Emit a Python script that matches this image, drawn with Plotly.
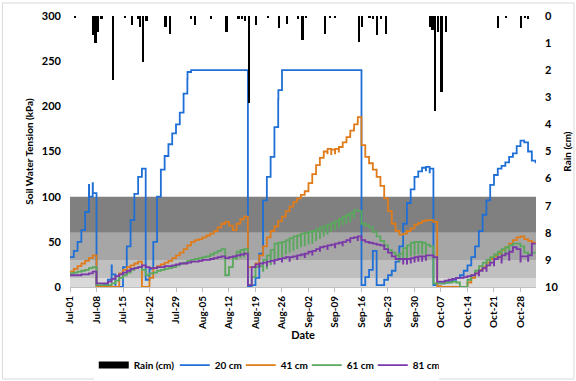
import pandas as pd
import plotly.graph_objects as go

# ---- data -------------------------------------------------------------
start = pd.Timestamp("2019-07-01")

tick_labels = ["Jul-01", "Jul-08", "Jul-15", "Jul-22", "Jul-29", "Aug-05",
               "Aug-12", "Aug-19", "Aug-26", "Sep-02", "Sep-09", "Sep-16",
               "Sep-23", "Sep-30", "Oct-07", "Oct-14", "Oct-21", "Oct-28"]

# daily soil water tension (kPa), one value per day from Jul-01
tension_20cm = [
    33, 40, 50, 63, 83, 100, 104, 0, 0, 3,
    8, 14, 0, 0, 22, 45, 74, 103, 122, 131,
    8, 20, 50, 100, 130, 145, 158, 170, 180, 193,
    214, 238, 240, 240, 240, 240, 240, 240, 240, 240,
    240, 240, 240, 240, 240, 240, 240, 0, 2, 10,
    37, 96, 122, 144, 177, 218, 240, 240, 240, 240,
    240, 240, 240, 240, 240, 240, 240, 240, 240, 240,
    240, 240, 240, 240, 240, 240, 240, 2, 11, 19,
    40, 2, 2, 8, 13, 18, 28, 45, 70, 93,
    108, 122, 128, 132, 133, 131, 2, 4, 4, 5,
    6, 8, 10, 13, 18, 24, 33, 45, 62, 80,
    96, 113, 124, 131, 134, 138, 144, 148, 156, 162,
    160, 150, 140, 137,
]
tension_41cm = [
    17, 20, 23, 26, 29, 32, 35, 0, 0, 0,
    0, 0, 0, 15, 19, 22, 24, 26, 28, 0,
    0, 10, 21, 23, 25, 27, 29, 32, 35, 38,
    42, 46, 50, 52, 53, 55, 57, 59, 62, 66,
    70, 72, 68, 63, 70, 75, 78, 22, 22, 26,
    35, 45, 55, 62, 67, 73, 78, 84, 89, 94,
    98, 102, 106, 115, 125, 135, 143, 150, 153, 152,
    153, 155, 160, 166, 173, 180, 188, 157, 144, 137,
    130, 122, 112, 98, 84, 70, 62, 58, 59, 62,
    65, 69, 71, 73, 74, 74, 72, 1, 0, 0,
    0, 0, 0, 0, 0, 5, 10, 15, 19, 22,
    27, 31, 34, 37, 41, 44, 48, 52, 55, 56,
    53, 51, 49, 49,
]
tension_61cm = [
    15, 16, 17, 18, 19, 21, 22, 2, 2, 2,
    2, 4, 7, 10, 13, 16, 19, 21, 22, 19,
    13, 15, 16, 18, 19, 20, 21, 22, 24, 26,
    27, 29, 30, 31, 32, 33, 34, 36, 38, 40,
    42, 13, 22, 32, 39, 41, 42, 2, 11, 22,
    23, 30, 35, 41, 48, 49, 50, 52, 54, 56,
    57, 59, 60, 61, 62, 64, 66, 67, 69, 71,
    73, 75, 78, 80, 82, 85, 84, 70, 68, 66,
    61, 56, 51, 46, 41, 38, 35, 37, 43, 46,
    49, 50, 50, 49, 47, 45, 4, 4, 4, 5,
    5, 6, 5, 0, 0, 8, 13, 18, 23, 27,
    30, 33, 36, 39, 42, 44, 46, 48, 48, 45,
    38, 36, 38, 38,
]
tension_81cm = [
    13, 13, 13, 14, 14, 15, 17, 4, 4, 4,
    6, 9, 12, 14, 16, 18, 20, 21, 22, 24,
    22, 21, 21, 22, 22, 23, 23, 24, 25, 26,
    26, 27, 28, 28, 29, 30, 30, 31, 32, 33,
    34, 32, 33, 34, 35, 36, 37, 2, 22, 25,
    26, 27, 28, 29, 30, 31, 32, 33, 33, 34,
    35, 36, 37, 39, 40, 42, 44, 45, 46, 47,
    48, 49, 50, 52, 54, 55, 56, 52, 50, 49,
    48, 47, 46, 42, 38, 34, 31, 31, 31, 31,
    32, 33, 34, 34, 35, 35, 33, 6, 6, 7,
    8, 9, 10, 10, 11, 12, 13, 15, 18, 21,
    24, 27, 31, 33, 35, 37, 39, 44, 42, 34,
    34, 35, 48, 48,
]

# short daily dips in the sensor trace (day index: depth in kPa);
# negative depth means a short upward spike
spikes_20cm = {5: -13, 6: -11, 11: -10, 31: 8, 55: 10, 94: 4, 95: 4}
spikes_41cm = {67: 5, 68: 5, 69: 5, 70: 5, 71: 5, 72: 5, 73: 5, 74: 5, 75: 5, 76: 5}
spikes_61cm = {
    43: 8, 44: 8, 45: 8, 46: 8,
    51: 12, 52: 14, 53: 16, 54: 18, 55: 18, 56: 16, 57: 15, 58: 15, 59: 15,
    60: 14, 61: 14, 62: 14, 63: 13, 64: 13, 65: 12, 66: 12, 67: 10, 68: 10,
    69: 9, 70: 9, 71: 9, 72: 9, 73: 9, 74: 9, 75: 8,
    87: 8, 88: 12, 89: 14, 90: 14, 91: 14, 92: 13, 93: 12, 94: 10,
    108: 6, 109: 6, 110: 7, 111: 7, 112: 8, 113: 8, 114: 8, 115: 8, 116: 8,
}
spikes_81cm = {
    50: 4, 52: 4, 54: 4, 56: 4, 58: 4, 60: 4, 62: 4, 64: 4, 66: 4, 68: 4,
    70: 4, 72: 4, 74: 4, 76: 4, 88: 5, 89: 5, 90: 5, 91: 5, 92: 5, 93: 5,
    94: 5, 108: 5, 110: 6, 112: 7, 114: 8, 116: 9, 119: 6, 121: 6,
}

# rainfall (cm): time in days after Jul-01, depth
rain_day = [1.3, 6.1, 6.8, 7.5, 8.4, 11.4, 14.5, 16.4, 18.0, 18.5,
            19.4, 20.3, 25.3, 26.4, 32.1, 33.0, 37.4, 41.4, 44.6, 45.4,
            46.2, 47.4, 49.3, 52.4, 55.3, 57.4, 60.3, 61.5, 62.5, 67.4,
            68.7, 70.0, 76.4, 77.3, 79.2, 80.1, 81.2, 82.3, 83.5, 95.3,
            95.8, 96.4, 97.3, 98.2, 99.3, 113.1, 115.3, 119.3, 120.2, 121.0]
rain_cm = [0.05, 0.7, 1.0, 0.6, 0.1, 2.35, 0.05, 0.35, 0.1, 0.4,
           1.7, 0.2, 0.4, 0.65, 0.1, 0.35, 0.1, 0.6, 0.1, 0.1,
           0.2, 3.2, 0.35, 0.05, 0.45, 0.3, 0.1, 0.9, 0.05, 0.65,
           0.05, 0.05, 0.95, 0.4, 0.05, 0.1, 0.7, 0.1, 0.65, 0.4,
           0.5, 3.5, 0.6, 2.8, 0.6, 0.45, 0.05, 0.45, 0.05, 0.1]

# tension classes shaded behind the data (kPa)
band_edges = [0, 10, 30, 60, 100]
band_colors = ["#d9d9d9", "#bfbfbf", "#a6a6a6", "#808080"]

series_names = ["20 cm", "41 cm", "61 cm", "81 cm"]
series_colors = ["#1f6fd6", "#e07b1a", "#5aa85e", "#7a38a8"]

# ---- helpers ----------------------------------------------------------
DAY = pd.Timedelta(days=1)


def stepped(values, spikes):
    xs, ys = [], []
    for i, v in enumerate(values):
        t = start + i * DAY
        s = spikes.get(i, 0)
        if s:
            xs += [t, t + pd.Timedelta(hours=1)]
            ys += [v - s, v]
        else:
            xs.append(t)
            ys.append(v)
    return xs, ys


FONT = "Lato"

fig = go.Figure()

# rainfall bars hang from the top on the reversed right axis
fig.add_trace(go.Bar(
    x=[start + d * DAY for d in rain_day], y=rain_cm, yaxis="y2",
    width=0.45 * 86400000, marker=dict(color="black", line_width=0),
    showlegend=False, name="Rain (cm)",
))
fig.add_trace(go.Scatter(x=[None], y=[None], mode="lines", name="Rain (cm)",
                         line=dict(color="black", width=7), legendwidth=36))

for name, col, vals, sp in zip(series_names, series_colors,
                               [tension_20cm, tension_41cm, tension_61cm, tension_81cm],
                               [spikes_20cm, spikes_41cm, spikes_61cm, spikes_81cm]):
    xs, ys = stepped(vals, sp)
    fig.add_trace(go.Scatter(x=xs, y=ys, mode="lines", name=name, legendwidth=21,
                             line=dict(color=col, width=1.8, shape="hv")))

tick_dates = [start + 7 * i * DAY for i in range(len(tick_labels))]

fig.update_layout(
    width=576, height=381,
    margin=dict(l=70, r=40, t=16, b=94, autoexpand=False),
    paper_bgcolor="white", plot_bgcolor="white",
    font=dict(family=FONT, size=10, color="#000000", weight="bold"),
    bargap=0,
    xaxis=dict(
        type="date", range=[start, start + 123.1 * DAY],
        tickvals=tick_dates, ticktext=tick_labels, tickangle=-90,
        tickfont=dict(size=10, weight="bold"),
        ticks="outside", ticklen=4, tickcolor="#bfbfbf",
        showline=True, linecolor="#bfbfbf", linewidth=1,
        showgrid=False, zeroline=False, automargin=False,
        title=dict(text="Date", font=dict(size=11, weight="bold"), standoff=2),
    ),
    yaxis=dict(
        range=[0, 300], dtick=50, showgrid=False, zeroline=False, showline=False,
        tickfont=dict(size=11, weight="bold"), ticklabelstandoff=8, automargin=False,
        title=dict(text="Soil Water Tension (kPa)", font=dict(size=10, weight="bold"),
                   standoff=6),
    ),
    yaxis2=dict(
        overlaying="y", side="right", range=[10, 0], dtick=1,
        showgrid=False, zeroline=False, showline=False, automargin=False,
        tickfont=dict(size=11, weight="bold"), ticklabelstandoff=8,
        title=dict(text="Rain (cm)", font=dict(size=10, weight="bold"), standoff=6),
    ),
    legend=dict(orientation="h", x=0.051, xanchor="left", y=-0.288, yanchor="middle",
                font=dict(size=10, weight="bold"), itemwidth=30, traceorder="normal"),
)

for lo, hi, col in zip(band_edges[:-1], band_edges[1:], band_colors):
    fig.add_shape(type="rect", xref="paper", yref="y", x0=0, x1=1, y0=lo, y1=hi,
                  fillcolor=col, line_width=0, layer="below")

# outer chart frame
fig.add_shape(type="rect", xref="paper", yref="paper",
              x0=-0.145, x1=1.0815, y0=-0.3395, y1=1.048,
              line=dict(color="#d9d9d9", width=1), fillcolor="rgba(0,0,0,0)")

fig.write_html("out.html")
